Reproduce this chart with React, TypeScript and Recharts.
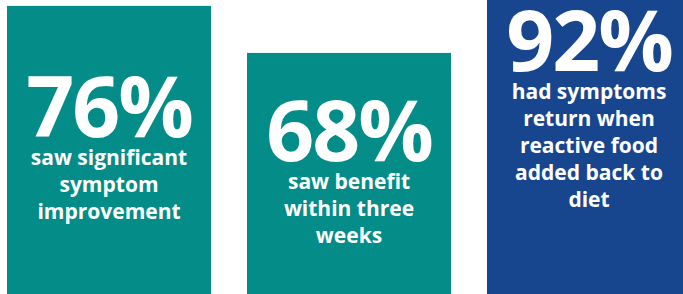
import React from "react";
import { BarChart, Bar, XAxis, YAxis, Cell } from "recharts";

const categories = ["improvement", "benefit", "relapse"];
const percents = [76, 68, 92];
const captions = [
  ["saw significant", "symptom", "improvement"],
  ["saw benefit", "within three", "weeks"],
  ["had symptoms", "return when", "reactive food", "added back to", "diet"],
];

const barColors = ["#038c88", "#038c88", "#17468f"];
// baseline of the big number inside each card
const numberBaseline = [137, 161, 71];
const font = "'Open Sans', 'Noto Sans', sans-serif";

const data = categories.map((name, i) => ({
  name,
  value: percents[i],
  caption: captions[i],
}));

const CardShape = (props: any) => {
  const { x, y, width, height, index, payload, fill } = props;
  const cx = x + width / 2;
  const base = numberBaseline[index];
  return (
    <g>
      <rect x={x} y={y} width={width} height={height} fill={fill} />
      <text
        x={cx}
        y={base}
        textAnchor="middle"
        fill="#ffffff"
        fontFamily={font}
        fontWeight={700}
        fontSize={84}
        letterSpacing={-2}
      >
        {payload.value}%
      </text>
      {payload.caption.map((line: string, j: number) => (
        <text
          key={j}
          x={cx}
          y={base + 28 + j * 27}
          textAnchor="middle"
          fill="#ffffff"
          fontFamily={font}
          fontWeight={700}
          fontSize={21}
        >
          {line}
        </text>
      ))}
    </g>
  );
};

export default function App() {
  return (
    <div
      style={{
        position: "absolute",
        left: 0,
        top: 0,
        width: 683,
        height: 294,
        overflow: "hidden",
        background: "#ffffff",
      }}
    >
      <div style={{ marginLeft: -11 }}>
        <BarChart
          width={720}
          height={294}
          data={data}
          margin={{ top: 0, right: 0, bottom: 0, left: 0 }}
          barSize={204}
        >
          <XAxis dataKey="name" hide />
          <YAxis hide domain={[27, 77]} allowDataOverflow />
          <Bar dataKey="value" isAnimationActive={false} shape={<CardShape />}>
            {data.map((d, i) => (
              <Cell key={d.name} fill={barColors[i]} />
            ))}
          </Bar>
        </BarChart>
      </div>
    </div>
  );
}
